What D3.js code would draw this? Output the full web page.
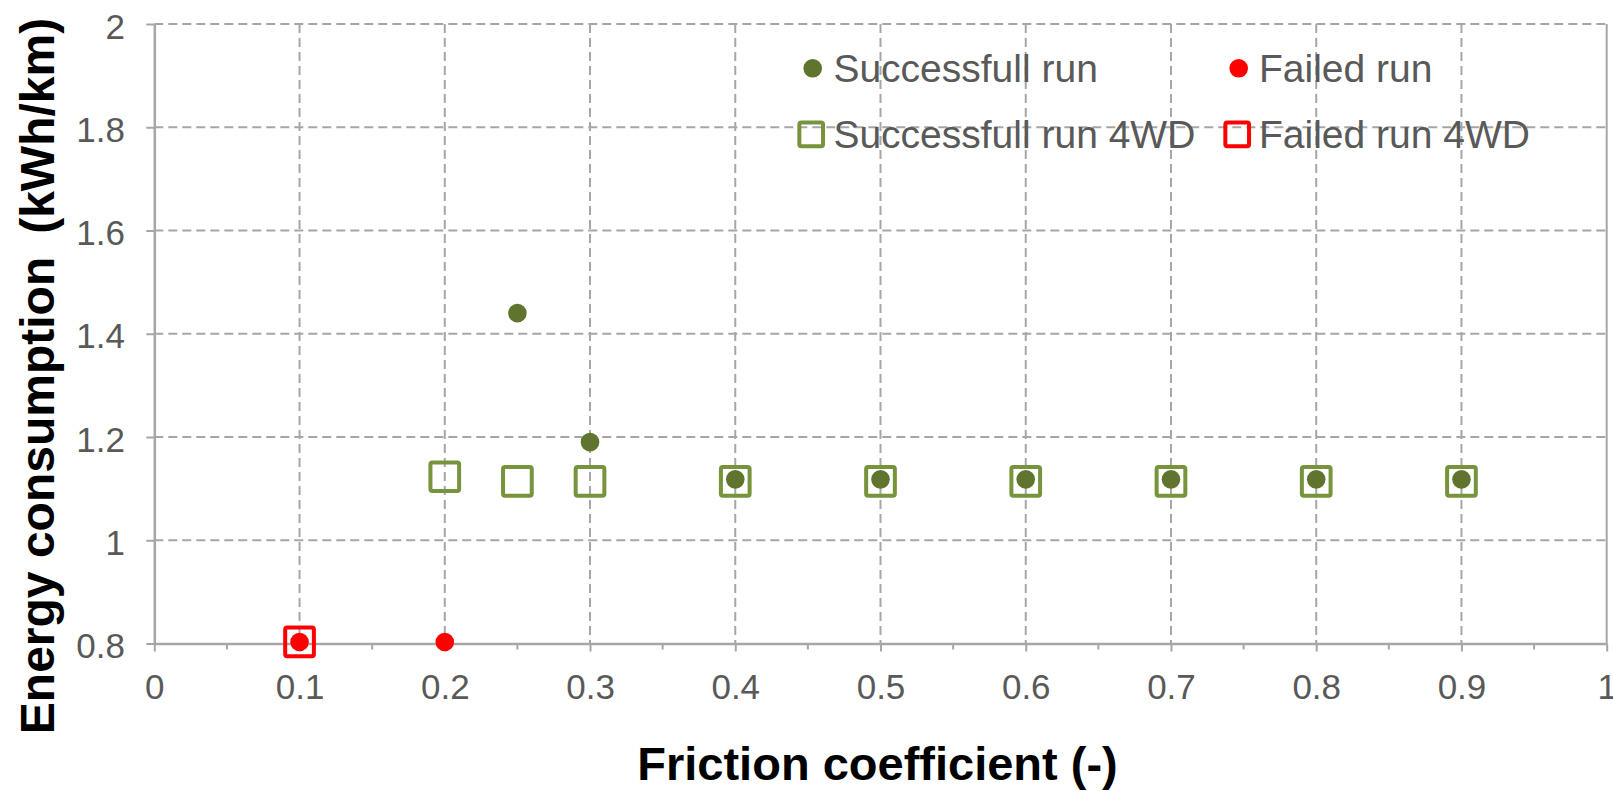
<!DOCTYPE html>
<html>
<head>
<meta charset="utf-8">
<script src="https://cdn.jsdelivr.net/npm/d3@7"></script>
<style>
  html, body { margin: 0; padding: 0; background: #ffffff; }
  svg { display: block; }
  text { font-family: "Liberation Sans", Arial, sans-serif; }
</style>
</head>
<body>
<svg id="chart" width="1613" height="791"></svg>
<script>
// ---- data ----
const xTicks = [0, 0.1, 0.2, 0.3, 0.4, 0.5, 0.6, 0.7, 0.8, 0.9, 1];
const yTicks = [0.8, 1, 1.2, 1.4, 1.6, 1.8, 2];

const successFriction = [0.25, 0.3, 0.4, 0.5, 0.6, 0.7, 0.8, 0.9];
const successEnergy   = [1.44, 1.19, 1.118, 1.118, 1.118, 1.118, 1.118, 1.118];

const failedFriction = [0.1, 0.2];
const failedEnergy   = [0.803, 0.803];

const success4WDFriction = [0.2, 0.25, 0.3, 0.4, 0.5, 0.6, 0.7, 0.8, 0.9];
const success4WDEnergy   = [1.123, 1.114, 1.114, 1.114, 1.114, 1.114, 1.114, 1.114, 1.114];

const failed4WDFriction = [0.1];
const failed4WDEnergy   = [0.803];

const legendLabels = ["Successfull run", "Failed run", "Successfull run 4WD", "Failed run 4WD"];

// ---- layout ----
const svg = d3.select("#chart");
const pLeft = 154.3, pRight = 1606.7, pTop = 24, pBottom = 643.5;
const x = d3.scaleLinear().domain([0, 1]).range([pLeft, pRight]);
const y = d3.scaleLinear().domain([0.8, 2]).range([pBottom, pTop]);

const gridColor = "#A6A6A6";
const axisColor = "#A6A6A6";
const labelColor = "#595959";
const darkOlive = "#5F752E";
const olive = "#77933C";
const red = "#FF0000";

// gridlines
const grid = svg.append("g");
grid.selectAll("line.h").data(yTicks.filter(d => d !== 0.8)).join("line")
  .attr("x1", pLeft).attr("x2", pRight)
  .attr("y1", d => y(d)).attr("y2", d => y(d))
  .attr("stroke", gridColor).attr("stroke-width", 2).attr("stroke-dasharray", "9,5");
grid.selectAll("line.v").data(xTicks.filter(d => d !== 0 && d !== 1)).join("line")
  .attr("x1", d => x(d)).attr("x2", d => x(d))
  .attr("y1", pTop).attr("y2", pBottom)
  .attr("stroke", gridColor).attr("stroke-width", 2).attr("stroke-dasharray", "9,5");
// right edge
svg.append("line").attr("x1", x(1)).attr("x2", x(1)).attr("y1", pTop).attr("y2", pBottom)
  .attr("stroke", axisColor).attr("stroke-width", 2);

// minor x ticks
const minorX = d3.range(0.05, 1, 0.1);
svg.append("g").selectAll("line").data(minorX).join("line")
  .attr("x1", d => x(d)).attr("x2", d => x(d))
  .attr("y1", pBottom).attr("y2", pBottom + 6)
  .attr("stroke", axisColor).attr("stroke-width", 2);

// x axis
const xAxis = d3.axisBottom(x).tickValues(xTicks).tickFormat(d3.format("~g"))
  .tickSizeInner(8).tickSizeOuter(0).tickPadding(14);
const gx = svg.append("g").attr("transform", `translate(0,${pBottom})`).call(xAxis);
gx.select(".domain").attr("stroke", axisColor).attr("stroke-width", 2.5);
gx.selectAll(".tick line").attr("stroke", axisColor).attr("stroke-width", 2);
gx.selectAll(".tick text").attr("fill", labelColor)
  .style("font-size", "35px").style("font-family", "'Liberation Sans', Arial, sans-serif")
  .attr("dy", null).attr("y", 55.8);

// y axis
const yAxis = d3.axisLeft(y).tickValues(yTicks).tickFormat(d3.format("~g"))
  .tickSizeInner(8).tickSizeOuter(0).tickPadding(21.3);
const gy = svg.append("g").attr("transform", `translate(${pLeft},0)`).call(yAxis);
gy.select(".domain").attr("stroke", axisColor).attr("stroke-width", 2.5);
gy.selectAll(".tick line").attr("stroke", axisColor).attr("stroke-width", 2);
gy.selectAll(".tick text").attr("fill", labelColor)
  .style("font-size", "35px").style("font-family", "'Liberation Sans', Arial, sans-serif")
  .attr("dy", "0.4em");

// axis titles
svg.append("text").attr("x", 877.5).attr("y", 780).attr("text-anchor", "middle")
  .attr("font-weight", "bold").attr("font-size", 47).attr("fill", "#000")
  .text("Friction coefficient (-)");
svg.append("text").attr("transform", "translate(53.5,376) rotate(-90)")
  .attr("text-anchor", "middle").attr("font-weight", "bold").attr("font-size", 48)
  .attr("fill", "#000")
  .text("Energy consumption\u2009 (kWh/km)");

// markers
const sq = 28.7;
function squares(fx, fy, color) {
  svg.append("g").selectAll("rect").data(fx).join("rect")
    .attr("x", (d) => x(d) - sq / 2)
    .attr("y", (d, i) => y(fy[i]) - sq / 2)
    .attr("width", sq).attr("height", sq).attr("rx", 2)
    .attr("fill", "none").attr("stroke", color).attr("stroke-width", 4);
}
function circles(fx, fy, color) {
  svg.append("g").selectAll("circle").data(fx).join("circle")
    .attr("cx", d => x(d)).attr("cy", (d, i) => y(fy[i]))
    .attr("r", 9.3).attr("fill", color);
}
squares(success4WDFriction, success4WDEnergy, olive);
squares(failed4WDFriction, failed4WDEnergy, red);
circles(successFriction, successEnergy, darkOlive);
circles(failedFriction, failedEnergy, red);

// legend
const legend = svg.append("g");
const legendItems = [
  { label: legendLabels[0], type: "circle", color: darkOlive, mx: 812.7, my: 68.3, tx: 833.4 },
  { label: legendLabels[1], type: "circle", color: red, mx: 1238.7, my: 68.3, tx: 1259 },
  { label: legendLabels[2], type: "square", color: olive, mx: 811.2, my: 134.3, tx: 833.4 },
  { label: legendLabels[3], type: "square", color: red, mx: 1237.2, my: 134.3, tx: 1259 }
];
const lsq = 23.7;
legendItems.forEach(it => {
  if (it.type === "circle") {
    legend.append("circle").attr("cx", it.mx).attr("cy", it.my).attr("r", 9.3).attr("fill", it.color);
  } else {
    legend.append("rect").attr("x", it.mx - lsq / 2).attr("y", it.my - lsq / 2)
      .attr("width", lsq).attr("height", lsq).attr("rx", 2)
      .attr("fill", "none").attr("stroke", it.color).attr("stroke-width", 4);
  }
  legend.append("text").attr("x", it.tx).attr("y", it.my + 13.3)
    .attr("font-size", 39).attr("fill", labelColor).text(it.label);
});
</script>
</body>
</html>
